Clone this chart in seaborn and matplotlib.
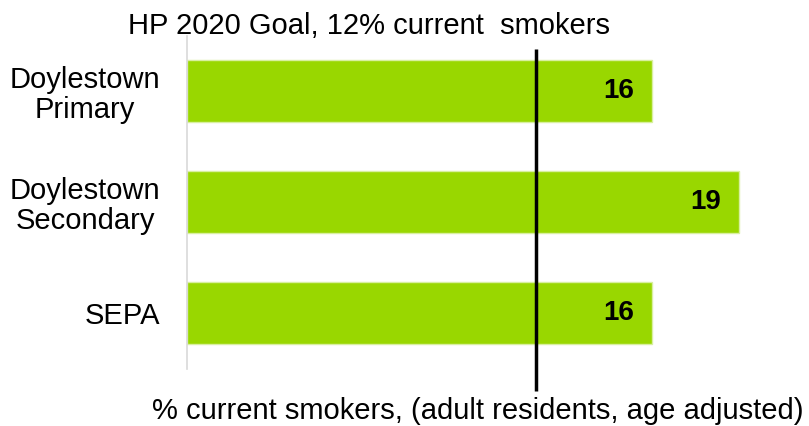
import matplotlib
matplotlib.use("Agg")
import matplotlib.pyplot as plt
import seaborn as sns
import pandas as pd

# Adult smoking prevalence by area
areas = ["Doylestown\nPrimary", "Doylestown\nSecondary", "SEPA"]
pct_smokers = [16, 19, 16]
goal_pct = 12
goal_label = "HP 2020 Goal, 12% current  smokers"
x_label = "% current smokers, (adult residents, age adjusted)"

df = pd.DataFrame({"area": areas, "pct": pct_smokers})

sns.set_theme(style="white")
plt.rcParams["font.family"] = ["Liberation Sans", "DejaVu Sans"]
plt.rcParams["text.color"] = "black"
plt.rcParams["ytick.labelcolor"] = "black"

fig = plt.figure(figsize=(8.09, 4.26), dpi=100)
ax = fig.add_axes([187 / 809, 57.5 / 426, 610 / 809, 333 / 426])

sns.barplot(data=df, x="pct", y="area", color="#99D700", saturation=1,
            width=0.55, edgecolor="#D8EFA0", linewidth=1, ax=ax)

ax.set_xlim(0, 21)
ax.set_ylim(2.5, -0.5)

for spine in ["top", "right", "bottom"]:
    ax.spines[spine].set_visible(False)
ax.spines["left"].set_color("#D9D9D9")
ax.spines["left"].set_linewidth(1.2)

ax.set_xticks([])
ax.set_ylabel("")
ax.set_xlabel("")
ax.tick_params(axis="y", length=0, pad=19, labelsize=21, labelcolor="black")
for lbl in ax.get_yticklabels():
    lbl.set_multialignment("center")
    lbl.set_linespacing(1.1)

# value labels inside bar ends
for i, v in enumerate(pct_smokers):
    ax.text(v - 0.6, i, f"{v}", ha="right", va="center",
            fontsize=20, fontweight="bold", color="black")

# goal marker line
ax.plot([goal_pct, goal_pct], [-0.38, 2.7], color="black", lw=2.5,
        clip_on=False, solid_capstyle="butt")

fig.text(369 / 809, 1 - 34 / 426, goal_label, ha="center", va="baseline",
         fontsize=21, color="black")
fig.text(478 / 809, 1 - 419 / 426, x_label, ha="center", va="baseline",
         fontsize=21, color="black")

fig.savefig("out.png", dpi=100)
